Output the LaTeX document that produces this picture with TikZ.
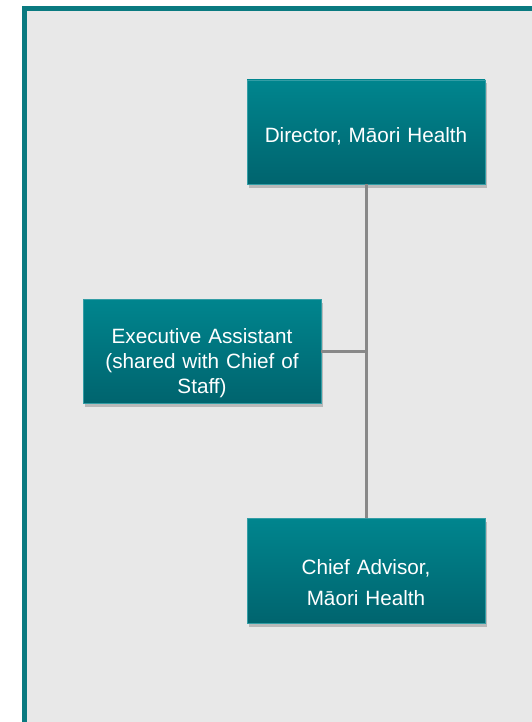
\documentclass[tikz,border=0pt]{standalone}
\usepackage{fontspec}
\setmainfont{Liberation Sans}
\usepackage{xcolor}
\usetikzlibrary{positioning,calc,shadows}

\definecolor{teallight}{HTML}{00858E}
\definecolor{tealdark}{HTML}{00646E}
\definecolor{tealframe}{HTML}{0A7A80}
\definecolor{panelgray}{HTML}{E8E8E8}
\definecolor{linkgray}{HTML}{888888}

\begin{document}
\begin{tikzpicture}[x=1pt,y=-1pt,
	node distance=334pt,
	font=\fontsize{20.7}{25}\selectfont]

	\tikzstyle{role}=[rectangle,
	minimum width=238pt, minimum height=104pt, text width=230pt, align=center,
	top color=teallight, bottom color=tealdark, draw=teallight!80!white,
	line width=0.6pt, text=white,
	drop shadow={opacity=0.45, shadow xshift=2pt, shadow yshift=-3.5pt}]
	\tikzstyle{link}=[draw=linkgray, line width=3pt]

	\useasboundingbox (0,0) rectangle (531,722);

	% panel
	\draw[draw=tealframe, fill=panelgray, line width=4.5pt]
		(24.5,8.5) rectangle (545,740);

	% roles
	\node[role]
	(director) at (366,132)
	{\rule{0pt}{23pt}Director, Māori Health};

	\node[role, minimum height=105pt, font=\fontsize{20.7}{31}\selectfont]
	(chiefAdv) [below=of director]
	{\rule{0pt}{38pt}Chief Advisor,\\Māori Health};

	\node[role]
	(execAsst) at (202,351)
	{\rule{0pt}{39pt}Executive Assistant\\(shared with Chief of\\Staff)};

	% reporting lines
	\path[link] (director) edge (chiefAdv);

	\coordinate (hub) at (director.south |- execAsst.east);
	\draw[link] (execAsst.east) -- (hub);

\end{tikzpicture}
\end{document}
